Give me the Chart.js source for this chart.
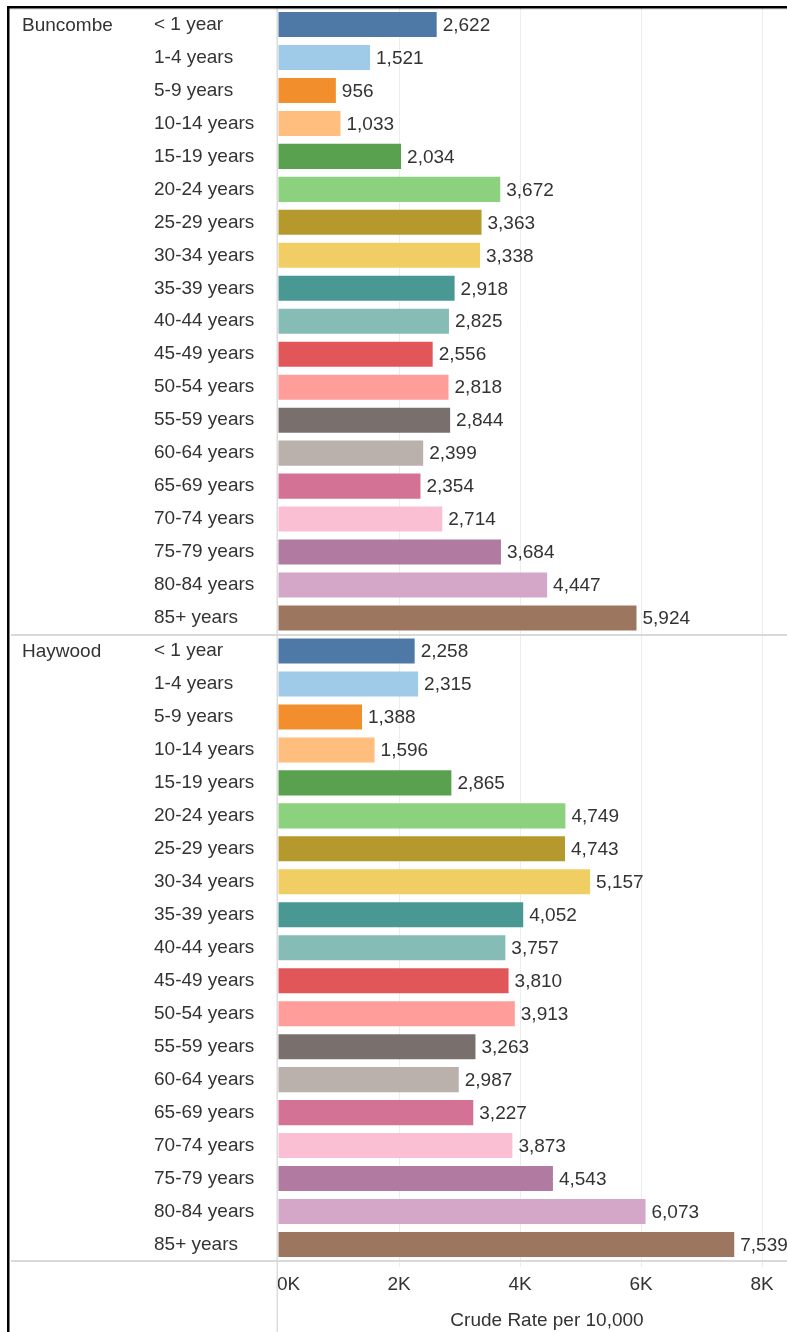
<!DOCTYPE html>
<html>
<head>
<meta charset="utf-8">
<script src="https://cdn.jsdelivr.net/npm/chart.js@4.4.1/dist/chart.umd.min.js"></script>
<style>
  html, body { margin: 0; padding: 0; background: #ffffff; overflow: hidden; }
  #wrap { width: 787px; height: 1332px; overflow: hidden; position: relative; }
  canvas { display: block; }
</style>
</head>
<body>
<div id="wrap"><canvas id="c" width="816" height="1332"></canvas></div>
<script>
const counties = ['Buncombe', 'Haywood'];
const ageGroups = ['< 1 year', '1-4 years', '5-9 years', '10-14 years', '15-19 years', '20-24 years',
  '25-29 years', '30-34 years', '35-39 years', '40-44 years', '45-49 years', '50-54 years',
  '55-59 years', '60-64 years', '65-69 years', '70-74 years', '75-79 years', '80-84 years', '85+ years'];
const buncombeRates = [2622, 1521, 956, 1033, 2034, 3672, 3363, 3338, 2918, 2825, 2556, 2818, 2844, 2399, 2354, 2714, 3684, 4447, 5924];
const haywoodRates = [2258, 2315, 1388, 1596, 2865, 4749, 4743, 5157, 4052, 3757, 3810, 3913, 3263, 2987, 3227, 3873, 4543, 6073, 7539];
const ageColors = ['#4E79A7', '#A0CBE8', '#F28E2B', '#FFBE7D', '#59A14F', '#8CD17D', '#B6992D', '#F1CE63',
  '#499894', '#86BCB6', '#E15759', '#FF9D9A', '#79706E', '#BAB0AC', '#D37295', '#FABFD2', '#B07AA1', '#D4A6C8', '#9D7660'];
const xTickValues = [0, 2000, 4000, 6000, 8000];
const xTickLabels = ['0K', '2K', '4K', '6K', '8K'];
const axisTitle = 'Crude Rate per 10,000';

const FONT = "'Liberation Sans', Arial, sans-serif";
const FS = 19;
const TEXT = '#333333';

const labels = counties.flatMap(() => ageGroups);
const values = buncombeRates.concat(haywoodRates);
const colors = counties.flatMap(() => ageColors);

const decor = {
  id: 'decor',
  beforeDraw(chart) {
    // shift the first x tick label so it starts at the axis
    const xs = chart.scales.x;
    const items = xs.getLabelItems(chart.chartArea);
    if (items && items.length && items[0].options && items[0].options.translation) {
      items[0].options.textAlign = 'left';
      items[0].options.translation[0] = chart.chartArea.left - 1;
    }
  },
  beforeDatasetsDraw(chart) {
    const ctx = chart.ctx;
    const area = chart.chartArea;
    const xs = chart.scales.x;
    ctx.save();
    ctx.fillStyle = '#dcdcdc';
    const x0 = Math.round(xs.getPixelForValue(0));
    ctx.fillRect(x0 - 1.5, area.top, 1.5, chart.height - area.top);
    ctx.restore();
  },
  afterDatasetsDraw(chart) {
    const ctx = chart.ctx;
    const meta = chart.getDatasetMeta(0);
    ctx.save();
    ctx.font = FS + 'px ' + FONT;
    ctx.fillStyle = TEXT;
    ctx.textAlign = 'left';
    ctx.textBaseline = 'middle';
    meta.data.forEach((bar, i) => {
      ctx.fillText(values[i].toLocaleString('en-US'), bar.x + 6, bar.y + 1);
    });
    ctx.restore();
  },
  afterDraw(chart) {
    const ctx = chart.ctx;
    const area = chart.chartArea;
    const ys = chart.scales.y;
    const n = ageGroups.length;
    ctx.save();
    // county labels
    ctx.font = FS + 'px ' + FONT;
    ctx.fillStyle = TEXT;
    ctx.textAlign = 'left';
    ctx.textBaseline = 'middle';
    counties.forEach((c, k) => {
      ctx.fillText(c, 22, ys.getPixelForValue(k * n) + 1);
    });
    // separators
    ctx.fillStyle = '#d9d9d9';
    for (let k = 1; k <= counties.length; k++) {
      let y;
      if (k < counties.length) {
        y = (ys.getPixelForValue(k * n - 1) + ys.getPixelForValue(k * n)) / 2;
      } else {
        y = area.bottom;
      }
      ctx.fillRect(11, Math.round(y) - 1, chart.width, 2);
    }
    // outer black frame (top and left)
    ctx.fillStyle = '#000000';
    ctx.fillRect(7, 6, chart.width, 2.5);
    ctx.fillRect(7, 6, 2.5, chart.height);
    ctx.fillStyle = 'rgba(0,0,0,0.08)';
    ctx.fillRect(9.5, 8.5, chart.width, 1.5);
    ctx.restore();
  }
};

new Chart(document.getElementById('c'), {
  type: 'bar',
  data: {
    labels: labels,
    datasets: [{
      data: values,
      backgroundColor: colors,
      borderWidth: 0,
      categoryPercentage: 1.0,
      barPercentage: 0.76
    }]
  },
  options: {
    indexAxis: 'y',
    responsive: false,
    animation: false,
    devicePixelRatio: 1,
    layout: { padding: { left: 154, top: 8, right: 0, bottom: 0 } },
    plugins: { legend: { display: false }, tooltip: { enabled: false }, title: { display: false } },
    scales: {
      y: {
        type: 'category',
        grid: { display: false },
        border: { display: false },
        ticks: {
          autoSkip: false,
          crossAlign: 'far',
          color: TEXT,
          padding: 0,
          font: { family: FONT, size: FS }
        },
        afterFit(scale) {
          scale.width = 124;
          scale.paddingTop = 0;
          scale.paddingBottom = 0;
        }
      },
      x: {
        type: 'linear',
        min: 0,
        max: 8890,
        afterBuildTicks(scale) {
          scale.ticks = xTickValues.map(v => ({ value: v }));
        },
        grid: {
          color: (c) => (c.tick && c.tick.value === 0) ? 'rgba(0,0,0,0)' : '#ededed',
          lineWidth: 1,
          tickLength: 6,
          drawTicks: true
        },
        border: { display: false },
        ticks: {
          color: TEXT,
          padding: 6,
          maxRotation: 0,
          font: { family: FONT, size: FS },
          callback: (v) => {
            const i = xTickValues.indexOf(v);
            return i >= 0 ? xTickLabels[i] : '';
          }
        },
        title: {
          display: true,
          text: axisTitle,
          color: TEXT,
          padding: { top: 0, bottom: 0 },
          font: { family: FONT, size: FS }
        },
        afterFit(scale) { scale.height = 71; }
      }
    }
  },
  plugins: [decor]
});
</script>
</body>
</html>
